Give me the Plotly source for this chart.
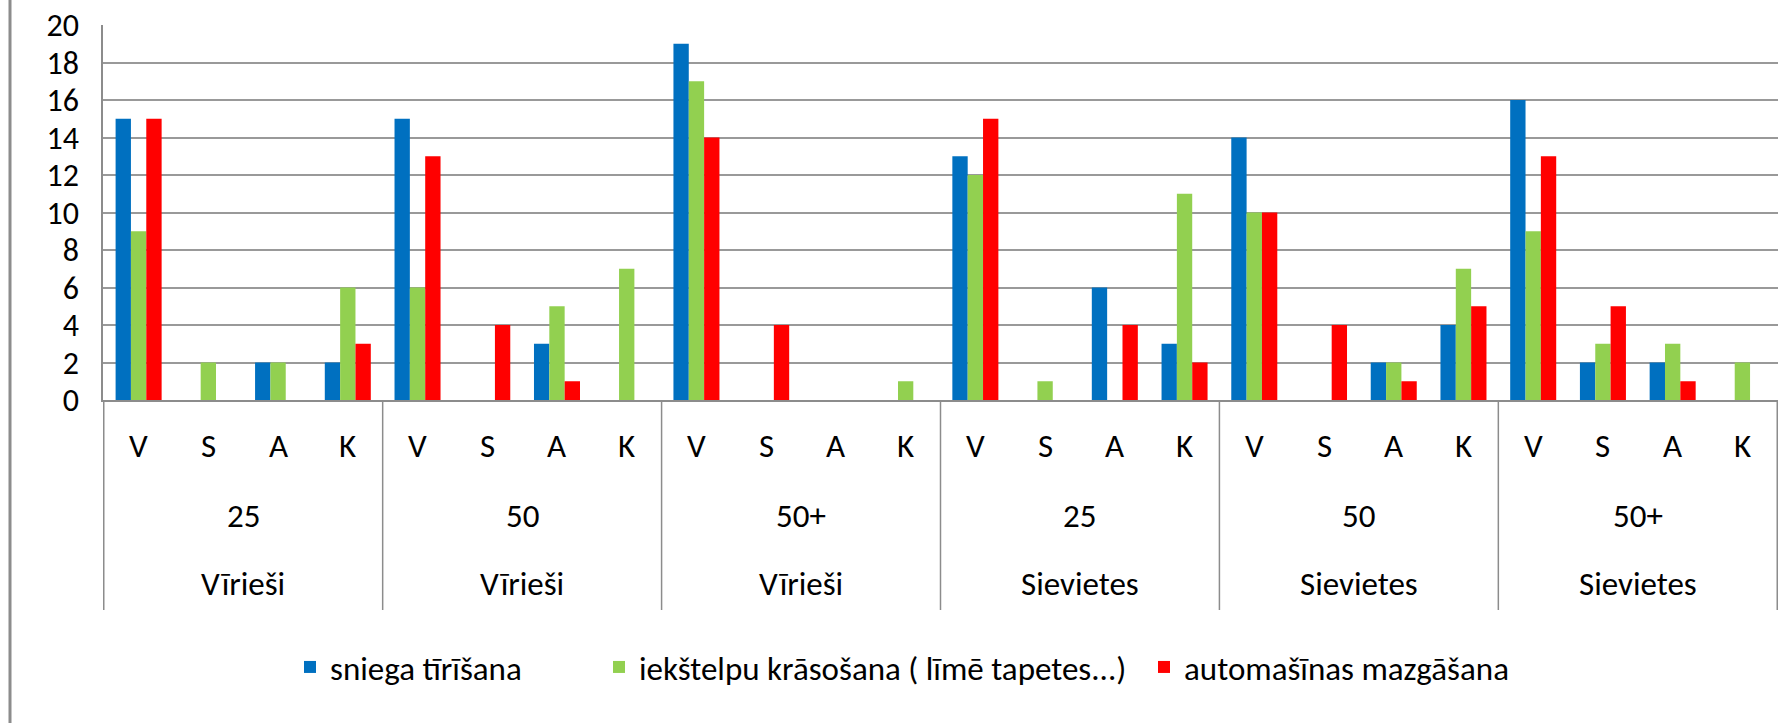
import plotly.graph_objects as go

# ── data ─────────────────────────────────────────────────────────────────────

GENDERS = ["Vīrieši", "Vīrieši", "Vīrieši", "Sievietes", "Sievietes", "Sievietes"]
AGES = ["25", "50", "50+", "25", "50", "50+"]
LETTERS = ["V", "S", "A", "K"]

SERIES_NAMES = [
    "sniega tīrīšana",
    "iekštelpu krāsošana ( līmē tapetes...)",
    "automašīnas mazgāšana",
]
sniega = [15, 0, 2, 2, 15, 0, 3, 0, 19, 0, 0, 0, 13, 0, 6, 3, 14, 0, 2, 4, 16, 2, 2, 0]
iekstelpu = [9, 2, 2, 6, 6, 0, 5, 7, 17, 0, 0, 1, 12, 1, 0, 11, 10, 0, 2, 7, 9, 3, 3, 2]
auto = [15, 0, 0, 3, 13, 4, 1, 0, 14, 4, 0, 0, 15, 0, 4, 2, 10, 4, 1, 5, 13, 5, 1, 0]

Y_TICKS = list(range(0, 21, 2))

_COLORS = ["#0070C0", "#92D050", "#FF0000"]
_GRID = "#999999"
_AXIS = "#8c8c8c"
_FONT = "Carlito, Liberation Sans Narrow, Open Sans, sans-serif"
_FS = 33

W, H = 1778, 723
M_L, M_R, M_T, M_B = 103, 0, 25, 323
PLOT_H = H - M_T - M_B
PLOT_W = W - M_L - M_R

# left edge (px) of each legend swatch in the reference
_LEGEND_PX = [304, 613, 1158]

categories = [f"{g} {a} {l}" for g, a in zip(GENDERS, AGES) for l in LETTERS]

fig = go.Figure()
for k, (name, values, color) in enumerate(zip(SERIES_NAMES, [sniega, iekstelpu, auto], _COLORS)):
    fig.add_trace(
        go.Bar(
            name=name,
            x=categories,
            y=values,
            marker=dict(color=color, line=dict(width=0)),
            legend="legend" if k == 0 else f"legend{k + 1}",
        )
    )

# category labels: letter row, age row, gender row
annotations = []
for i, cat in enumerate(categories):
    annotations.append(dict(
        x=i, y=0, xref="x", yref="paper", yshift=-46, yanchor="middle",
        text=LETTERS[i % 4], showarrow=False, font=dict(size=_FS, color="black"),
    ))
for g, (gender, age) in enumerate(zip(GENDERS, AGES)):
    center = 4 * g + 1.5
    annotations.append(dict(
        x=center, y=0, xref="x", yref="paper", yshift=-116, yanchor="middle",
        text=age, showarrow=False, font=dict(size=_FS, color="black"),
    ))
    annotations.append(dict(
        x=center, y=0, xref="x", yref="paper", yshift=-184, yanchor="middle",
        text=gender, showarrow=False, font=dict(size=_FS, color="black"),
    ))

# group dividers below the axis
shapes = []
for g in range(len(GENDERS) + 1):
    shapes.append(dict(
        type="line", xref="x", yref="paper",
        x0=4 * g - 0.5, x1=4 * g - 0.5, y0=0, y1=-210 / PLOT_H,
        line=dict(color=_AXIS, width=1.5),
    ))
# chart-area border on the far left
shapes.append(dict(
    type="line", xref="paper", yref="paper",
    x0=-93 / PLOT_W, x1=-93 / PLOT_W, y0=-(M_B + 5) / PLOT_H, y1=(M_T + 5) / PLOT_H + 1,
    line=dict(color=_AXIS, width=3),
))

legends = {}
for k, px in enumerate(_LEGEND_PX):
    key = "legend" if k == 0 else f"legend{k + 1}"
    legends[key] = dict(
        orientation="h",
        x=(px - 14 - M_L) / PLOT_W,
        xanchor="left",
        y=-267 / PLOT_H,
        yanchor="middle",
        font=dict(size=_FS, color="black"),
        itemwidth=30,
        bgcolor="rgba(0,0,0,0)",
    )

fig.update_layout(
    width=W,
    height=H,
    barmode="group",
    bargap=0.34,
    bargroupgap=0,
    plot_bgcolor="white",
    paper_bgcolor="white",
    font=dict(family=_FONT, size=_FS, color="black"),
    margin=dict(l=M_L, r=M_R, t=M_T, b=M_B, pad=0),
    xaxis=dict(
        type="category",
        showticklabels=False,
        showgrid=False,
        showline=True,
        linecolor=_AXIS,
        linewidth=1.5,
        ticks="",
    ),
    yaxis=dict(
        range=[0, 20],
        tickvals=Y_TICKS,
        showgrid=True,
        gridcolor=_GRID,
        gridwidth=1.5,
        showline=True,
        linecolor=_AXIS,
        linewidth=1.5,
        zeroline=False,
        ticks="",
        ticklabelstandoff=16,
        tickfont=dict(size=32, color="black"),
    ),
    showlegend=True,
    annotations=annotations,
    shapes=shapes,
    **legends,
)

fig.write_html(
    "out.html",
    config={"displayModeBar": False},
    post_script="document.body.style.margin='0';document.body.style.overflow='hidden';",
)
